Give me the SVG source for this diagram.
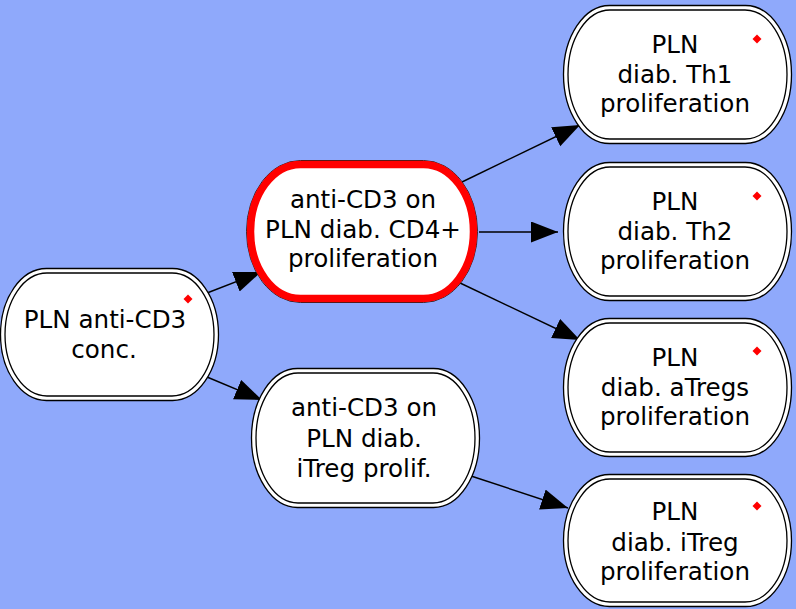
<svg xmlns="http://www.w3.org/2000/svg" width="796" height="609" viewBox="0 0 796 609">
<defs>
<style>
.outer{fill:#ffffff;stroke:#000000;stroke-width:1.3}
.inner{fill:none;stroke:#000000;stroke-width:1.3}
.sel{fill:#ffffff;stroke:#ff0000;stroke-width:7.5}
.selo{fill:none;stroke:#222222;stroke-width:1}
.lbl{font-family:"DejaVu Sans",sans-serif;font-size:24.6px;fill:#000000;text-anchor:middle}
.dot{fill:#ff0000}
.edge{stroke:#000000;stroke-width:1.4;fill:none;marker-end:url(#ah)}
</style>
<marker id="ah" markerUnits="userSpaceOnUse" markerWidth="30" markerHeight="24" refX="27" refY="10.5" orient="auto">
<path d="M0,0 L27,10.5 L0,21 Z" fill="#000000"/>
</marker>
</defs>
<rect x="0" y="0" width="796" height="609" fill="#8fa9fb"/>
<g id="connectors">
<line class="edge" x1="207" y1="293" x2="261" y2="272"/>
<line class="edge" x1="207" y1="377" x2="262" y2="400"/>
<line class="edge" x1="462" y1="182" x2="580" y2="125"/>
<line class="edge" x1="479" y1="232" x2="558" y2="232"/>
<line class="edge" x1="458" y1="282" x2="580" y2="340"/>
<line class="edge" x1="468" y1="475" x2="568" y2="508"/>
</g>
<g id="n_conc">
<rect class="outer" x="0.5" y="268.5" width="218" height="132" rx="46" ry="66"/>
<rect class="inner" x="5" y="273" width="209" height="123" rx="42" ry="61.5"/>
<path class="dot" d="M188,294.5 L192.5,299 L188,303.5 L183.5,299 Z"/>
<text class="lbl" x="105" y="328">PLN anti-CD3</text>
<text class="lbl" x="104" y="358">conc.</text>
</g>
<g id="n_cd4">
<rect class="selo" x="246.5" y="160.5" width="231" height="142" rx="54" ry="71"/>
<rect class="sel" x="250.5" y="164.5" width="223" height="134" rx="50" ry="67"/>
<text class="lbl" x="363" y="208">anti-CD3 on</text>
<text class="lbl" x="363" y="238">PLN diab. CD4+</text>
<text class="lbl" x="363" y="267">proliferation</text>
</g>
<g id="n_itreg_prolif">
<rect class="outer" x="251.5" y="368.5" width="228" height="139" rx="46" ry="69.5"/>
<rect class="inner" x="256" y="373" width="219" height="130" rx="42" ry="65"/>
<text class="lbl" x="364" y="416">anti-CD3 on</text>
<text class="lbl" x="364" y="447">PLN diab.</text>
<text class="lbl" x="364" y="477">iTreg prolif.</text>
</g>
<g id="n_th1">
<rect class="outer" x="563.5" y="5.5" width="228" height="138" rx="46" ry="69"/>
<rect class="inner" x="568" y="10" width="219" height="129" rx="42" ry="64.5"/>
<path class="dot" d="M757,34.5 L761.5,39 L757,43.5 L752.5,39 Z"/>
<text class="lbl" x="675" y="53">PLN</text>
<text class="lbl" x="675" y="83">diab. Th1</text>
<text class="lbl" x="675" y="112">proliferation</text>
</g>
<g id="n_th2">
<rect class="outer" x="563.5" y="162.5" width="228" height="138" rx="46" ry="69"/>
<rect class="inner" x="568" y="167" width="219" height="129" rx="42" ry="64.5"/>
<path class="dot" d="M757,191.5 L761.5,196 L757,200.5 L752.5,196 Z"/>
<text class="lbl" x="675" y="210">PLN</text>
<text class="lbl" x="675" y="240">diab. Th2</text>
<text class="lbl" x="675" y="269">proliferation</text>
</g>
<g id="n_atregs">
<rect class="outer" x="563.5" y="318.5" width="228" height="138" rx="46" ry="69"/>
<rect class="inner" x="568" y="323" width="219" height="129" rx="42" ry="64.5"/>
<path class="dot" d="M757,346.5 L761.5,351 L757,355.5 L752.5,351 Z"/>
<text class="lbl" x="675" y="366">PLN</text>
<text class="lbl" x="675" y="396">diab. aTregs</text>
<text class="lbl" x="675" y="425">proliferation</text>
</g>
<g id="n_itreg">
<rect class="outer" x="563.5" y="474.5" width="228" height="132" rx="46" ry="66"/>
<rect class="inner" x="568" y="479" width="219" height="123" rx="42" ry="61.5"/>
<path class="dot" d="M757,501.5 L761.5,506 L757,510.5 L752.5,506 Z"/>
<text class="lbl" x="675" y="520">PLN</text>
<text class="lbl" x="675" y="551">diab. iTreg</text>
<text class="lbl" x="675" y="580">proliferation</text>
</g>
</svg>
